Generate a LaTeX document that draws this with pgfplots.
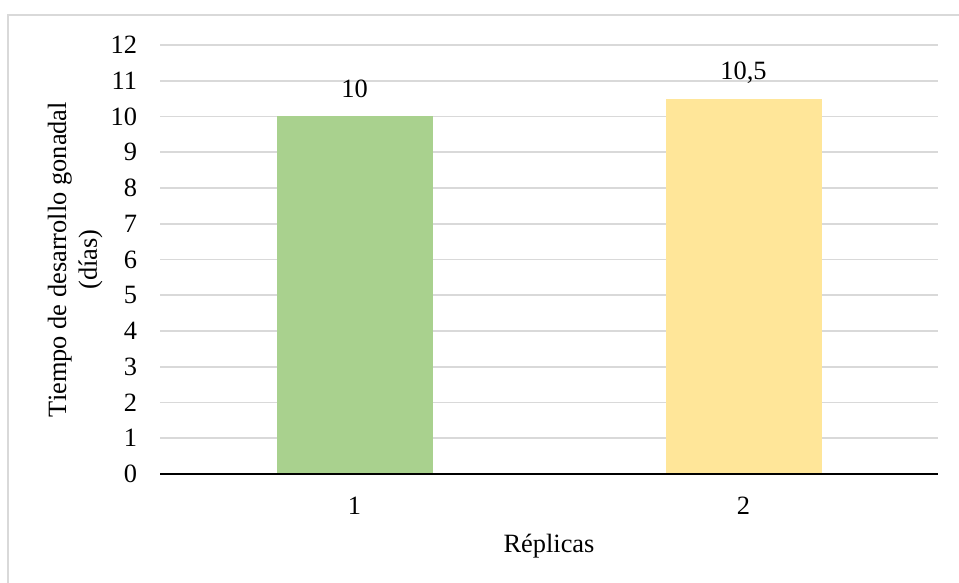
\documentclass[border=0pt]{standalone}
\usepackage{fontspec}
\setmainfont{Liberation Serif}
\usepackage{pgfplots}
\pgfplotsset{compat=1.18}
\definecolor{barg}{HTML}{A9D18E}
\definecolor{bary}{HTML}{FFE699}
\definecolor{gridc}{HTML}{D9D9D9}
\begin{document}
\begin{tikzpicture}
\useasboundingbox (0,0) rectangle (719.25pt,436.5pt);
\draw[gridc, line width=0.9pt] (6pt,-2pt) -- (6pt,425.25pt) -- (722pt,425.25pt);
\begin{axis}[
  at={(120pt,81pt)}, anchor=south west,
  scale only axis, width=583.5pt, height=321.75pt,
  xmin=0.5, xmax=2.5, ymin=0, ymax=12,
  ytick={0,1,...,12}, xtick={1,2},
  axis line style={draw=none},
  major tick length=0pt,
  ymajorgrids, grid style={gridc, line width=1.2pt},
  font=\fontsize{19.8}{23}\selectfont,
  /pgf/number format/assume math mode=true,
  /pgf/number format/use comma,
  yticklabel style={inner sep=0pt, xshift=-17pt},
  xticklabel style={inner sep=0pt, yshift=-17pt},
  xlabel={Réplicas},
  ylabel={Tiempo de desarrollo gonadal\\(días)},
  ylabel style={align=center, at={(axis description cs:-0.109,0.5)}, anchor=center, rotate=0},
  xlabel style={at={(axis description cs:0.5,-0.168)}, anchor=center},
  ybar, bar width=117pt, bar shift=0pt,
  nodes near coords,
  nodes near coords style={font=\fontsize{19.8}{23}\selectfont, anchor=base, inner sep=0pt, yshift=14pt},
  clip=false,
]
\addplot[fill=barg, draw=none] coordinates {(1,10)};
\addplot[fill=bary, draw=none] coordinates {(2,10.5)};
\draw[black, line width=2pt] (axis cs:0.5,0) -- (axis cs:2.5,0);
\end{axis}
\end{tikzpicture}
\end{document}
